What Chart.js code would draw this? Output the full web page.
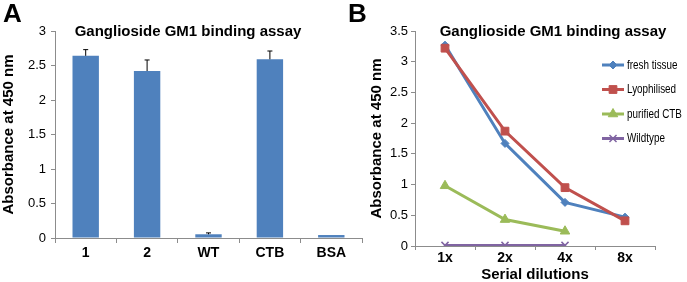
<!DOCTYPE html>
<html>
<head>
<meta charset="utf-8">
<script src="https://cdn.jsdelivr.net/npm/chart.js@4.4.0/dist/chart.umd.min.js"></script>
<style>
  html, body { margin: 0; padding: 0; background: #fff; }
  #wrap { position: relative; width: 687px; height: 282px; overflow: hidden; }
  canvas { position: absolute; top: 0; }
  #chartA { left: 0; }
  #chartB { left: 345px; }
  .panel { position: absolute; font: bold 26px "Liberation Sans", Arial, sans-serif; top: -2px; }
</style>
</head>
<body>
<div id="wrap">
  <canvas id="chartA" width="365" height="282"></canvas>
  <canvas id="chartB" width="342" height="282"></canvas>
  <div class="panel" style="left:3px">A</div>
  <div class="panel" style="left:348px">B</div>
</div>
<script>
// panel A data
const samplesA = ['1', '2', 'WT', 'CTB', 'BSA'];
const absorbA = [2.64, 2.42, 0.054, 2.59, 0.043];
const errA = [0.09, 0.16, 0.02, 0.12, 0];

// panel B data
const dilutions = ['1x', '2x', '4x', '8x'];
const freshTissue = [3.27, 1.67, 0.71, 0.47];
const lyophilised = [3.22, 1.87, 0.95, 0.41];
const purifiedCTB = [0.98, 0.43, 0.24, null];
const wildtype = [0.01, 0.01, 0.01, null];

const titleText = 'Ganglioside GM1 binding assay';
const yTitle = 'Absorbance at 450 nm';
const arial = "'Liberation Sans', Arial, sans-serif";
const axisGrey = '#8c8c8c';

// title drawn over the plot, centred on a given x of the canvas
const topTitle = {
  id: 'topTitle',
  afterDraw(chart, args, opts) {
    const ctx = chart.ctx;
    ctx.save();
    ctx.font = 'bold 15px ' + arial;
    ctx.fillStyle = '#000';
    ctx.textAlign = 'center';
    ctx.textBaseline = 'middle';
    ctx.fillText(titleText, opts.x, opts.y);
    ctx.restore();
  }
};

// upward error bars for panel A
const errorBars = {
  id: 'errorBars',
  afterDatasetsDraw(chart) {
    const ctx = chart.ctx;
    const meta = chart.getDatasetMeta(0);
    const y = chart.scales.y;
    ctx.save();
    ctx.strokeStyle = '#000';
    ctx.lineWidth = 1;
    meta.data.forEach((bar, i) => {
      if (!errA[i]) return;
      const top = y.getPixelForValue(absorbA[i] + errA[i]);
      ctx.beginPath();
      ctx.moveTo(bar.x, bar.y);
      ctx.lineTo(bar.x, top);
      ctx.moveTo(bar.x - 2.5, top);
      ctx.lineTo(bar.x + 2.5, top);
      ctx.stroke();
    });
    ctx.restore();
  }
};

// legend drawn inside the plot of panel B (text squeezed to look condensed)
const innerLegend = {
  id: 'innerLegend',
  afterDraw(chart, args, opts) {
    const ctx = chart.ctx;
    ctx.save();
    chart.data.datasets.forEach((ds, i) => {
      const y = opts.y + i * opts.gap;
      ctx.strokeStyle = ds.borderColor;
      ctx.lineWidth = 3;
      ctx.beginPath();
      ctx.moveTo(opts.x, y);
      ctx.lineTo(opts.x + 22, y);
      ctx.stroke();
      ctx.lineWidth = ds.pointBorderWidth;
      ctx.fillStyle = ds.borderColor;
      Chart.helpers.drawPoint(ctx, {
        pointStyle: ds.pointStyle, radius: ds.pointRadius, rotation: 0, borderWidth: ds.pointBorderWidth
      }, opts.x + 11, y);
      ctx.save();
      ctx.translate(opts.x + 25, y);
      ctx.scale(0.76, 1);
      ctx.fillStyle = '#000';
      ctx.font = '13px ' + arial;
      ctx.textBaseline = 'middle';
      ctx.fillText(ds.label, 0, 0);
      ctx.restore();
    });
    ctx.restore();
  }
};

function yAxis(max, width, labelPad) {
  return {
    min: 0, max: max,
    ticks: { stepSize: 0.5, color: '#000', font: { family: arial, size: 13 }, padding: labelPad,
             callback: v => String(v) },
    grid: { drawOnChartArea: false, tickLength: 4, color: axisGrey },
    border: { color: axisGrey, width: 1 },
    title: { display: true, text: yTitle, color: '#000', font: { family: arial, size: 15, weight: 'bold' }, padding: 0 },
    afterFit(s) { s.width = width; }
  };
}

new Chart(document.getElementById('chartA'), {
  type: 'bar',
  data: {
    labels: samplesA,
    datasets: [{
      data: absorbA,
      backgroundColor: '#4f81bd',
      borderWidth: 0,
      categoryPercentage: 1,
      barPercentage: 0.43
    }]
  },
  options: {
    responsive: false, animation: false,
    devicePixelRatio: 1,
    layout: { padding: { top: 31, right: 3, left: 0, bottom: 0 } },
    plugins: {
      legend: { display: false }, tooltip: { enabled: false },
      topTitle: { x: 188, y: 32 }
    },
    scales: {
      x: {
        ticks: { color: '#000', font: { family: arial, size: 14, weight: 'bold' }, padding: 2 },
        grid: { offset: true, drawOnChartArea: false, tickLength: 5, color: axisGrey },
        border: { color: axisGrey, width: 1 },
        afterFit(s) { s.height = 44; }
      },
      y: yAxis(3, 55, 5)
    }
  },
  plugins: [topTitle, errorBars]
});

function series(label, values, color, style, radius, order) {
  return {
    label: label, data: values,
    borderColor: color, backgroundColor: color,
    pointBackgroundColor: color, pointBorderColor: color,
    pointStyle: style, pointRadius: radius,
    pointBorderWidth: style === 'crossRot' ? 1.5 : 1,
    borderWidth: 3, tension: 0, order: order
  };
}

new Chart(document.getElementById('chartB'), {
  type: 'line',
  data: {
    labels: dilutions,
    datasets: [
      series('fresh tissue', freshTissue, '#4f81bd', 'rectRot', 4, 4),
      series('Lyophilised', lyophilised, '#c0504d', 'rect', 5.5, 3),
      series('purified CTB', purifiedCTB, '#9bbb59', 'triangle', 5.5, 2),
      series('Wildtype', wildtype, '#8064a2', 'crossRot', 5, 1)
    ]
  },
  options: {
    responsive: false, animation: false,
    devicePixelRatio: 1,
    layout: { padding: { top: 31, right: 32, left: 23, bottom: 0 } },
    plugins: {
      legend: { display: false }, tooltip: { enabled: false },
      topTitle: { x: 208, y: 32 },
      innerLegend: { x: 257, y: 65, gap: 24.5 }
    },
    scales: {
      x: {
        offset: true,
        ticks: { color: '#000', font: { family: arial, size: 14, weight: 'bold' }, padding: 0 },
        grid: { offset: true, drawOnChartArea: false, tickLength: 4, color: axisGrey },
        border: { color: axisGrey, width: 1 },
        title: { display: true, text: 'Serial dilutions', color: '#000', font: { family: arial, size: 15, weight: 'bold' }, padding: { top: 0, bottom: -2 } },
        afterFit(s) { s.height = 36; }
      },
      y: yAxis(3.5, 47, 3)
    }
  },
  plugins: [topTitle, innerLegend]
});
</script>
</body>
</html>
